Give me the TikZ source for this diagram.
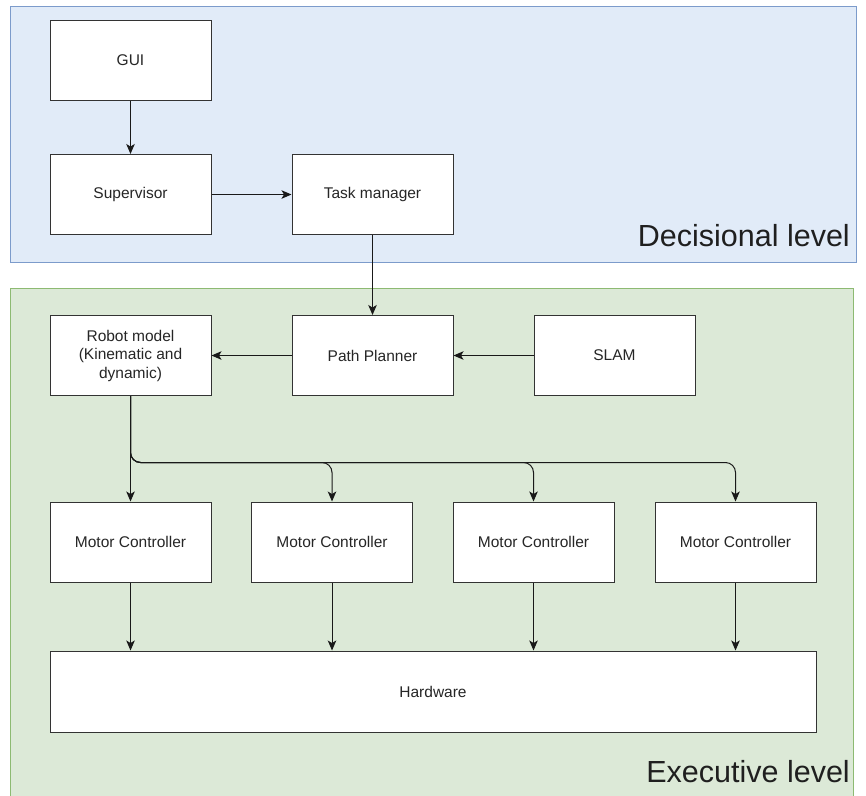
\documentclass[tikz,border=0pt]{standalone}
\usepackage{fontspec}
\setmainfont{Liberation Sans}
\usetikzlibrary{arrows.meta}
\definecolor{decfill}{HTML}{E1EBF8}
\definecolor{decline}{HTML}{7C9BCB}
\definecolor{exefill}{HTML}{DCE9D7}
\definecolor{exeline}{HTML}{8DBA72}
\definecolor{boxline}{HTML}{333333}
\tikzset{
  blk/.style={draw=boxline, fill=white, line width=1pt, minimum width=161pt, minimum height=80pt, inner sep=0pt, align=center, font=\fontsize{15.5}{18.5}\selectfont, text=black!85},
  arr/.style={draw=black!90, line width=1pt, -{Stealth[length=10pt,width=8.5pt,inset=2.5pt]}},
  lvl/.style={anchor=base east, inner sep=0pt, font=\fontsize{30.5}{36}\selectfont, text=black!88},
}
\begin{document}
\begin{tikzpicture}[x=1pt,y=-1pt]
\useasboundingbox (0,0) rectangle (866,795);
\fill[white] (0,0) rectangle (866,795);
% regions
\draw[fill=decfill, draw=decline, line width=1pt] (10,6) rectangle (856,262);
\draw[fill=exefill, draw=exeline, line width=1pt] (10,288) rectangle (853,805);
\node[lvl] (declbl) at (850,246) {Decisional level};
\node[lvl] (exelbl) at (850,782) {Executive level};
% boxes
\node[blk] (gui) at (130.5,60) {GUI};
\node[blk] (sup) at (130.5,194.5) {Supervisor};
\node[blk] (task) at (372.5,194.5) {Task manager};
\node[blk] (robot) at (130.5,355.5) {Robot model\\(Kinematic and\\dynamic)};
\node[blk] (path) at (372.5,355.5) {Path Planner};
\node[blk] (slam) at (614.5,355.5) {SLAM};
\node[blk] (mc1) at (130.5,542) {Motor Controller};
\node[blk] (mc2) at (332,542) {Motor Controller};
\node[blk] (mc3) at (533.5,542) {Motor Controller};
\node[blk] (mc4) at (735.5,542) {Motor Controller};
\node[blk, minimum width=766pt, minimum height=81pt] (hw) at (433,691.5) {Hardware};
% connectors
\draw[arr] (gui) -- (sup);
\draw[arr] (sup) -- (task);
\draw[arr] (task) -- (path);
\draw[arr] (path) -- (robot);
\draw[arr] (slam) -- (path);
\draw[arr] (robot) -- (mc1);
\draw[arr, rounded corners=10pt] (robot.south) |- ([yshift=39pt]mc2.north) -- (mc2.north);
\draw[arr, rounded corners=10pt] (robot.south) |- ([yshift=39pt]mc3.north) -- (mc3.north);
\draw[arr, rounded corners=10pt] (robot.south) |- ([yshift=39pt]mc4.north) -- (mc4.north);
\draw[arr] (mc1.south) -- (mc1.south |- hw.north);
\draw[arr] (mc2.south) -- (mc2.south |- hw.north);
\draw[arr] (mc3.south) -- (mc3.south |- hw.north);
\draw[arr] (mc4.south) -- (mc4.south |- hw.north);
\end{tikzpicture}
\end{document}
